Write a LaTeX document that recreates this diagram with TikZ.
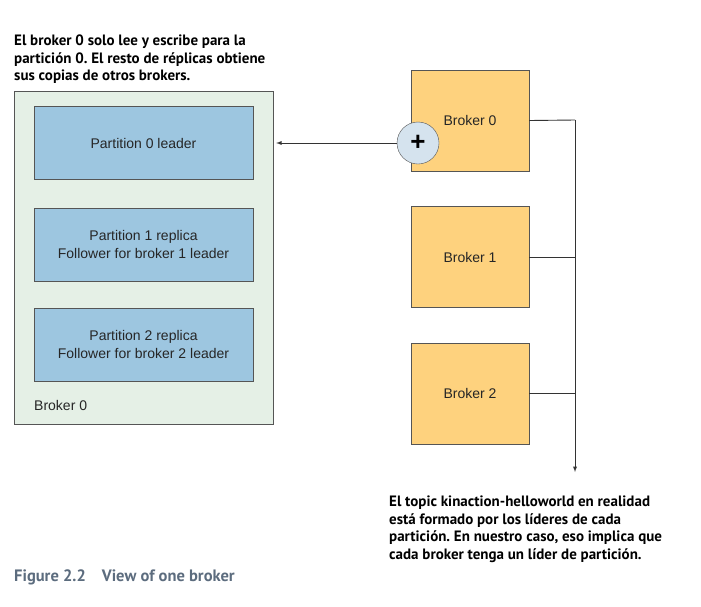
\documentclass[tikz,border=0pt]{standalone}
\usepackage{fontspec}
\setmainfont{Liberation Sans}
\newfontfamily\notefont{PT Sans}
\usetikzlibrary{shapes}
\usetikzlibrary{arrows}
\definecolor{brokergreen}{HTML}{E5F0E6}
\definecolor{partblue}{HTML}{9DC6E0}
\definecolor{brokerorange}{HTML}{FED27E}
\definecolor{plusblue}{HTML}{D5E3EE}
\definecolor{linegray}{HTML}{555555}
\definecolor{captiongray}{HTML}{5C6C7E}
\frenchspacing

\begin{document}
\begin{tikzpicture}[x=1pt,y=-1pt]
			\tikzstyle{every node}=[font=\fontsize{14}{18}\selectfont,text=black!85]
			\tikzstyle{outerbox}=[rectangle,draw=linegray,fill=brokergreen,minimum width=259pt,minimum height=333pt]
			\tikzstyle{part}=[rectangle,draw=linegray,fill=partblue,minimum width=219pt,minimum height=73pt,align=center]
			\tikzstyle{broker}=[rectangle,draw=linegray,fill=brokerorange,minimum width=118pt,minimum height=101pt]
			\tikzstyle{plus}=[circle,draw=linegray,fill=plusblue,minimum size=42pt,inner sep=0pt,text=black,font=\bfseries\fontsize{26}{26}\selectfont]
			\tikzstyle{note}=[inner sep=0pt,align=left,anchor=north west,font=\notefont\bfseries\fontsize{15}{17.5}\selectfont,text=black]
			\tikzstyle{wire}=[draw=black!80,line width=0.9pt]
			
			\useasboundingbox (0,0) rectangle (701,606);
			
			% broker 0 with its partitions
			\node[outerbox] (b0box) at (143.5,257.5) {};
			\node[part] (p0) at (143.5,143) {Partition 0 leader};
			\node[part] (p1) at (143.5,244.5) {Partition 1 replica\\Follower for broker 1 leader};
			\node[part] (p2) at (143.5,344.5) {Partition 2 replica\\Follower for broker 2 leader};
			\node[anchor=west,inner sep=0pt] (b0label) at (34,405) {Broker 0};
			
			% brokers
			\node[broker] (b0) at (470,120.5) {Broker 0};
			\node[broker] (b1) at (470,257) {Broker 1};
			\node[broker] (b2) at (470,393.5) {Broker 2};
			\node[plus] (pl) at (418,143) {+};
			
			\coordinate (bustop) at (575,120);
			\coordinate (busend) at (575,472);
			\draw[wire] (b0.east) -- (bustop);
			\draw[wire,-latex] (bustop) -- (busend);
			\draw[wire] (b1.east) -- (b1.east -| bustop);
			\draw[wire] (b2.east) -- (b2.east -| bustop);
			\draw[wire,-latex,shorten >=3pt] (pl.west) -- (pl.west -| b0box.east);
			
			% notes
			\node[note] (topnote) at (14,35) {El broker 0 solo lee y escribe para la\\partición 0. El resto de réplicas obtiene\\sus copias de otros brokers.};
			\node[note] (botnote) at (389,496) {El topic kinaction-helloworld en realidad\\está formado por los líderes de cada\\partición. En nuestro caso, eso implica que\\cada broker tenga un líder de partición.};
			\node[note,anchor=west,text=captiongray,font=\notefont\bfseries\fontsize{16.5}{18}\selectfont] (caption) at (14,577) {Figure 2.2\hspace{16pt}View of one broker};
\end{tikzpicture}
\end{document}
